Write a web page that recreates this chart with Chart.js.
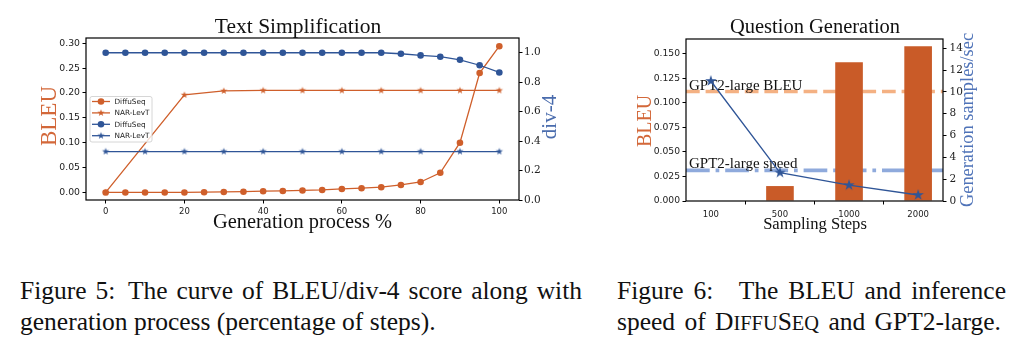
<!DOCTYPE html>
<html>
<head>
<meta charset="utf-8">
<script src="https://cdn.jsdelivr.net/npm/chart.js@4.4.1/dist/chart.umd.min.js"></script>
<style>
  body { margin: 0; background: #fff; width: 1030px; height: 348px; position: relative; overflow: hidden; }
  canvas { position: absolute; top: 0; }
  #simp { left: 0; }
  #qg { left: 600px; }
  .cap {
    position: absolute;
    font-family: "Liberation Serif", serif;
    font-size: 25.5px;
    line-height: 31px;
    color: #111;
    text-align: justify;
    text-align-last: left;
  }
  .sc { font-size: 0.8em; }
</style>
</head>
<body>
<canvas id="simp" width="600" height="250"></canvas>
<canvas id="qg" width="430" height="250"></canvas>
<div class="cap" style="left:20px; top:275px; width:562px;">Figure 5:&ensp;The curve of BLEU/div-4 score along with generation process (percentage of steps).</div>
<div class="cap" style="left:617px; top:275px; width:389px; word-spacing:3px;">Figure 6:&ensp;&ensp;The BLEU and inference speed of D<span class="sc">IFFU</span>S<span class="sc">EQ</span> and GPT2-large.</div>
<script>
// ---- Text Simplification data ----
const progress = [0, 5, 10, 15, 20, 25, 30, 35, 40, 45, 50, 55, 60, 65, 70, 75, 80, 85, 90, 95, 100];
const diffuseqBleu = [0, 0, 0, 0, 0, 0.0005, 0.001, 0.0015, 0.0025, 0.003, 0.004, 0.005, 0.007, 0.0085, 0.0105, 0.015, 0.021, 0.0395, 0.1, 0.24, 0.294];
const diffuseqDiv = [1, 1, 1, 1, 1, 1, 1, 1, 1, 1, 1, 1, 1, 1, 1, 0.993, 0.982, 0.973, 0.952, 0.915, 0.866];
const levtBleuSteps = [0, 20, 30, 40, 50, 60, 70, 80, 90, 100];
const levtBleu = [0, 0.196, 0.204, 0.205, 0.205, 0.205, 0.205, 0.205, 0.205, 0.205];
const levtDivSteps = [0, 10, 20, 30, 40, 50, 60, 70, 80, 90, 100];
const levtDiv = [0.329, 0.329, 0.329, 0.329, 0.329, 0.329, 0.329, 0.329, 0.329, 0.329, 0.329];
const progressTicks = [0, 20, 40, 60, 80, 100];
const bleuTicks = [0, 0.05, 0.1, 0.15, 0.2, 0.25, 0.3];
const divTicks = [0, 0.2, 0.4, 0.6, 0.8, 1.0];

// ---- Question Generation data ----
const samplingSteps = ["100", "500", "1000", "2000"];
const qgBleu = [0, 0.0152, 0.1412, 0.1574];
const qgSpeed = [11.0, 2.6, 1.45, 0.55];
const gpt2Bleu = 0.1114;
const gpt2Speed = 2.8;
const qgBleuTicks = [0, 0.025, 0.05, 0.075, 0.1, 0.125, 0.15];
const speedTicks = [0, 2, 4, 6, 8, 10, 12, 14];

const ORANGE = "#cf5f2b";
const BAR_ORANGE = "#c95b28";
const BLUE = "#2f5597";
const LIGHT_ORANGE = "#f4b183";
const LIGHT_BLUE = "#8faadc";
const SERIF = "'Liberation Serif', 'Times New Roman', serif";

// filled five-point star used as a marker
function starMarker(color, r) {
  const c = document.createElement("canvas");
  const s = Math.ceil(r * 2 + 2);
  c.width = c.height = s;
  const g = c.getContext("2d");
  g.fillStyle = color;
  g.beginPath();
  for (let k = 0; k < 10; k++) {
    const rad = k % 2 ? r * 0.382 : r;
    const a = -Math.PI / 2 + k * Math.PI / 5;
    g.lineTo(s / 2 + rad * Math.cos(a), s / 2 + rad * Math.sin(a));
  }
  g.closePath();
  g.fill();
  return c;
}

const xy = (xs, ys) => xs.map((x, i) => ({ x: x, y: ys[i] }));
const fixedTicks = (values) => (scale) => { scale.ticks = values.map(v => ({ value: v })); };

function tickGrid() {
  return { drawOnChartArea: false, drawTicks: true, tickLength: 3.5, tickWidth: 1, tickColor: "#000" };
}

function drawLabel(ctx, text, x, y, font, color, rotate) {
  ctx.save();
  ctx.translate(x, y);
  if (rotate) ctx.rotate(-Math.PI / 2);
  ctx.font = font;
  ctx.fillStyle = color;
  ctx.textAlign = "center";
  ctx.textBaseline = "alphabetic";
  ctx.fillText(text, 0, 0);
  ctx.restore();
}

// black box round the plot area
const frame = {
  id: "frame",
  afterDatasetsDraw(chart) {
    const a = chart.chartArea, ctx = chart.ctx;
    ctx.save();
    ctx.strokeStyle = "#000";
    ctx.lineWidth = 1.2;
    ctx.strokeRect(a.left, a.top, a.right - a.left, a.bottom - a.top);
    ctx.restore();
  }
};

// ---------------- Text Simplification ----------------
const smallStarO = starMarker(ORANGE, 3.8);
const smallStarB = starMarker(BLUE, 3.8);

const simpText = {
  id: "simpText",
  afterDraw(chart) {
    const ctx = chart.ctx;
    drawLabel(ctx, "Text Simplification", 298, 33, "21.5px " + SERIF, "#111", false);
    drawLabel(ctx, "Generation process %", 302.5, 228, "20.4px " + SERIF, "#111", false);
    drawLabel(ctx, "BLEU", 56, 116, "23px " + SERIF, "#d3683a", true);
    drawLabel(ctx, "div-4", 556, 117, "21px " + SERIF, "#4a6cad", true);

    // legend box
    ctx.save();
    ctx.fillStyle = "rgba(255,255,255,0.8)";
    ctx.strokeStyle = "#cccccc";
    ctx.lineWidth = 0.8;
    ctx.beginPath();
    ctx.roundRect(90, 96.5, 62, 45.5, 2);
    ctx.fill();
    ctx.stroke();
    ctx.font = "7.3px 'DejaVu Sans'";
    ctx.textBaseline = "middle";
    chart.data.datasets.forEach((ds, i) => {
      const y = 101.5 + i * 11.4;
      ctx.strokeStyle = ds.borderColor;
      ctx.lineWidth = 1.3;
      ctx.beginPath();
      ctx.moveTo(92, y);
      ctx.lineTo(110, y);
      ctx.stroke();
      if (ds.pointStyle === "circle") {
        ctx.fillStyle = ds.borderColor;
        ctx.beginPath();
        ctx.arc(101, y, 3.3, 0, Math.PI * 2);
        ctx.fill();
      } else {
        const m = ds.pointStyle;
        ctx.drawImage(m, 101 - m.width / 2, y - m.height / 2);
      }
      ctx.fillStyle = "#222";
      ctx.fillText(ds.label, 114.5, y + 0.5);
    });
    ctx.restore();
  }
};

new Chart(document.getElementById("simp"), {
  type: "line",
  data: {
    datasets: [
      { label: "DiffuSeq", data: xy(progress, diffuseqBleu), yAxisID: "y", borderColor: ORANGE, backgroundColor: ORANGE,
        borderWidth: 1.3, pointStyle: "circle", pointRadius: 3.3, pointBorderWidth: 0, order: 2 },
      { label: "NAR-LevT", data: xy(levtBleuSteps, levtBleu), yAxisID: "y", borderColor: ORANGE, backgroundColor: ORANGE,
        borderWidth: 1.3, pointStyle: smallStarO, order: 2 },
      { label: "DiffuSeq", data: xy(progress, diffuseqDiv), yAxisID: "y2", borderColor: BLUE, backgroundColor: BLUE,
        borderWidth: 1.3, pointStyle: "circle", pointRadius: 3.3, pointBorderWidth: 0, order: 1 },
      { label: "NAR-LevT", data: xy(levtDivSteps, levtDiv), yAxisID: "y2", borderColor: BLUE, backgroundColor: BLUE,
        borderWidth: 1.3, pointStyle: smallStarB, order: 1 }
    ]
  },
  options: {
    responsive: false,
    animation: false,
    layout: { padding: { top: 38 } },
    plugins: { legend: { display: false }, tooltip: { enabled: false } },
    scales: {
      x: {
        type: "linear", min: -5, max: 105,
        afterBuildTicks: fixedTicks(progressTicks),
        afterFit: s => { s.height = 50; },
        grid: tickGrid(), border: { display: false },
        ticks: { autoSkip: false, maxRotation: 0, padding: 3, color: "#222", font: { family: "DejaVu Sans", size: 8.5 } }
      },
      y: {
        position: "left", min: -0.0152, max: 0.3105,
        afterBuildTicks: fixedTicks(bleuTicks),
        afterFit: s => { s.width = 86; },
        grid: tickGrid(), border: { display: false },
        ticks: { callback: v => v.toFixed(2), padding: 2.5, color: "#222", font: { family: "DejaVu Sans", size: 9.3 } }
      },
      y2: {
        position: "right", min: 0, max: 1.1,
        afterBuildTicks: fixedTicks(divTicks),
        afterFit: s => { s.width = 81; },
        grid: tickGrid(), border: { display: false },
        ticks: { callback: v => v.toFixed(1), padding: 1.5, color: "#222", font: { family: "DejaVu Serif", size: 10.5 } }
      }
    }
  },
  plugins: [frame, simpText]
});

// ---------------- Question Generation ----------------
const bigStarB = starMarker(BLUE, 6);
const xMin = -0.36, xMax = 3.36;

const qgText = {
  id: "qgText",
  beforeDatasetDraw(chart, args) {
    if (args.index !== 0) return;
    const ctx = chart.ctx, a = chart.chartArea;
    ctx.save();
    ctx.font = "15px " + SERIF;
    ctx.fillStyle = "#111";
    ctx.textBaseline = "alphabetic";
    ctx.fillText("GPT2-large BLEU", a.left + 3, chart.scales.y.getPixelForValue(gpt2Bleu) - 1);
    ctx.fillText("GPT2-large speed", a.left + 3, chart.scales.y2.getPixelForValue(gpt2Speed) - 2.5);
    ctx.restore();
  },
  afterDraw(chart) {
    const ctx = chart.ctx;
    drawLabel(ctx, "Question Generation", 215, 33, "20.5px " + SERIF, "#111", false);
    drawLabel(ctx, "Sampling Steps", 215, 228.5, "16.6px " + SERIF, "#111", false);
    drawLabel(ctx, "BLEU", 51, 121, "20px " + SERIF, "#d3683a", true);
    drawLabel(ctx, "Generation samples/sec", 373, 120, "18.4px " + SERIF, "#4f73b8", true);
  }
};

new Chart(document.getElementById("qg"), {
  data: {
    datasets: [
      { type: "line", label: "DiffuSeq speed", data: xy([0, 1, 2, 3], qgSpeed), yAxisID: "y2",
        borderColor: BLUE, backgroundColor: BLUE, borderWidth: 1.3, pointStyle: bigStarB, order: 1 },
      { type: "bar", label: "DiffuSeq BLEU", data: xy([0, 1, 2, 3], qgBleu), yAxisID: "y",
        backgroundColor: BAR_ORANGE, barPercentage: 0.4, categoryPercentage: 1, order: 2 },
      { type: "line", label: "GPT2-large BLEU", data: xy([xMin, xMax], [gpt2Bleu, gpt2Bleu]), yAxisID: "y",
        borderColor: LIGHT_ORANGE, borderWidth: 3.7, borderDash: [13.7, 5.9], pointRadius: 0, order: 4 },
      { type: "line", label: "GPT2-large speed", data: xy([xMin, xMax], [gpt2Speed, gpt2Speed]), yAxisID: "y2",
        borderColor: LIGHT_BLUE, borderWidth: 3.7, borderDash: [23.7, 5.9, 3.7, 5.9], pointRadius: 0, order: 3 }
    ]
  },
  options: {
    responsive: false,
    animation: false,
    layout: { padding: { top: 39 } },
    plugins: { legend: { display: false }, tooltip: { enabled: false } },
    scales: {
      x: {
        type: "linear", min: xMin, max: xMax, offset: false,
        afterBuildTicks: fixedTicks([0, 1, 2, 3]),
        afterFit: s => { s.height = 49; },
        grid: tickGrid(), border: { display: false },
        ticks: { autoSkip: false, maxRotation: 0, padding: 5, color: "#222",
          callback: v => samplingSteps[v], font: { family: "DejaVu Sans", size: 8.5 } }
      },
      y: {
        position: "left", min: 0, max: 0.1648,
        afterBuildTicks: fixedTicks(qgBleuTicks),
        afterFit: s => { s.width = 86; },
        grid: tickGrid(), border: { display: false },
        ticks: { callback: v => v.toFixed(3), padding: 2.5, color: "#222", font: { family: "DejaVu Sans", size: 9.2 } }
      },
      y2: {
        position: "right", min: 0, max: 14.85,
        afterBuildTicks: fixedTicks(speedTicks),
        afterFit: s => { s.width = 87; },
        grid: tickGrid(), border: { display: false },
        ticks: { padding: 3, color: "#222", font: { family: "DejaVu Serif", size: 10.5 } }
      }
    }
  },
  plugins: [frame, qgText]
});
</script>
</body>
</html>
